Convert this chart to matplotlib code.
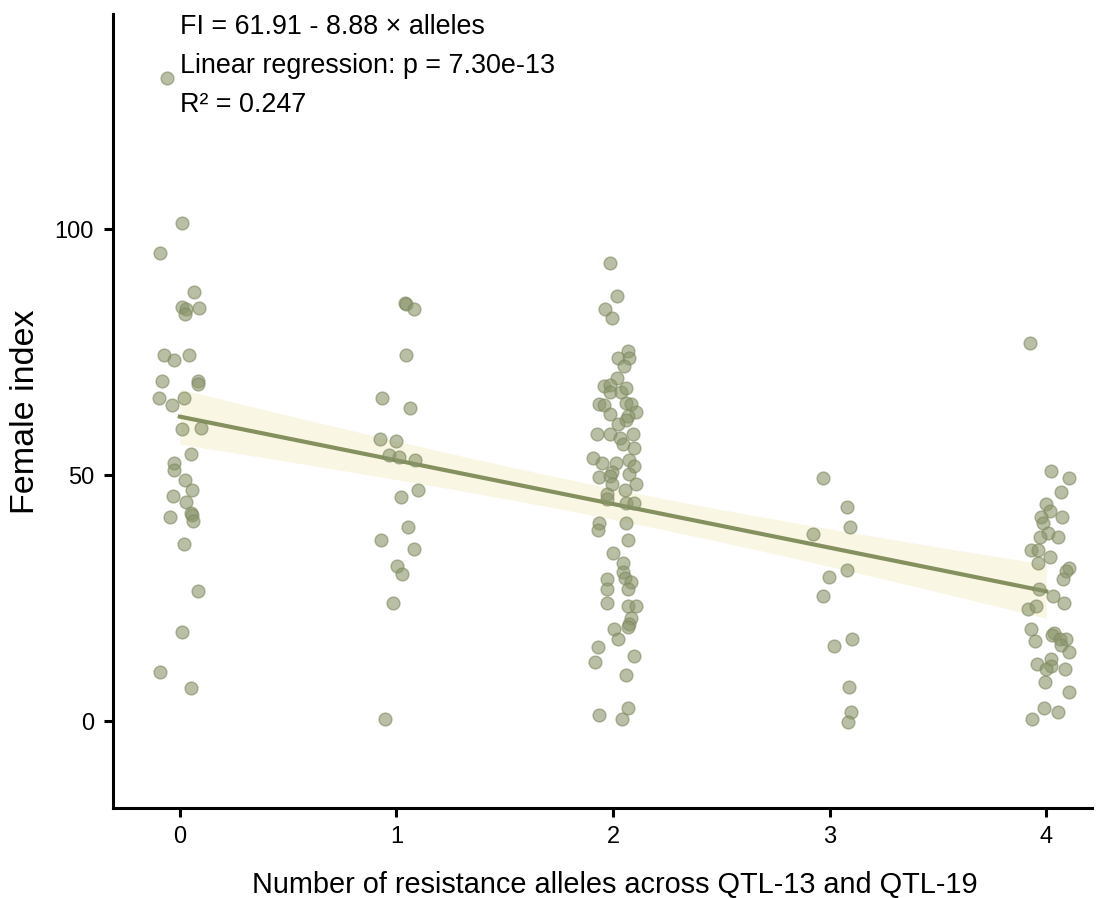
import numpy as np
import matplotlib
matplotlib.use("Agg")
import matplotlib.pyplot as plt

plt.rcParams['font.family'] = ['Liberation Sans', 'DejaVu Sans']

# jittered allele counts and female index values
alleles_0 = [-0.06, 0.012, -0.09, 0.063, 0.008, 0.028, 0.023, 0.089, -0.074, -0.029,
             0.04, -0.082, 0.083, 0.085, -0.095, -0.035, 0.018, 0.011, 0.097, 0.052,
             -0.028, -0.029, 0.026, 0.054, -0.031, 0.028, -0.046, 0.051, 0.055, 0.06,
             0.018, 0.082, 0.011, -0.09, 0.052]
fi_0 = [130.8, 101.2, 95.2, 87.2, 84.2, 83.7, 82.8, 83.9, 74.5, 73.5,
        74.5, 69.1, 69.1, 68.5, 65.8, 64.3, 65.8, 59.4, 59.7, 54.3,
        52.4, 51.1, 49.0, 46.9, 45.7, 44.6, 41.6, 42.4, 41.9, 40.6,
        36.0, 26.5, 18.2, 10.0, 6.7]

alleles_1 = [1.038, 1.046, 1.081, 1.044, 0.933, 1.061, 0.924, 1.0, 0.964, 1.012,
             1.087, 1.1, 1.023, 1.053, 0.927, 1.08, 1.004, 1.026, 0.986, 0.946]
fi_1 = [85.0, 84.8, 83.7, 74.4, 65.7, 63.6, 57.3, 56.9, 54.1, 53.7,
        53.0, 46.9, 45.5, 39.5, 36.8, 35.1, 31.5, 30.0, 24.0, 0.5]

alleles_2 = [1.988, 2.018, 1.965, 1.996, 2.07, 2.024, 2.073, 2.05, 2.018, 1.958,
             1.984, 1.987, 2.035, 2.058, 1.933, 1.958, 2.058, 2.082, 2.104, 1.988,
             2.067, 2.058, 2.025, 1.927, 1.984, 2.03, 2.09, 2.044, 2.098, 1.907,
             1.947, 2.012, 2.073, 2.095, 1.996, 1.936, 1.987, 2.075, 1.993, 2.105,
             2.055, 1.971, 1.973, 2.061, 2.095, 1.935, 1.932, 2.058, 2.071, 2.002,
             2.044, 2.045, 2.055, 2.081, 1.971, 1.97, 2.068, 1.973, 2.07, 2.105,
             2.081, 2.073, 2.067, 2.006, 2.021, 1.932, 2.098, 1.916, 2.059, 1.936,
             2.067, 2.039]
fi_2 = [93.2, 86.4, 83.7, 82.0, 75.2, 73.8, 73.8, 72.3, 69.8, 68.1,
        68.4, 66.9, 67.0, 67.8, 64.5, 64.2, 64.6, 64.4, 62.9, 62.5,
        62.0, 61.2, 60.4, 58.3, 58.3, 57.5, 58.3, 56.4, 55.6, 53.5,
        52.4, 52.5, 53.0, 51.9, 50.7, 49.6, 49.9, 50.2, 48.2, 48.2,
        46.9, 46.1, 45.1, 44.4, 44.4, 40.3, 38.9, 40.2, 36.8, 34.2,
        32.2, 30.3, 29.2, 28.2, 28.9, 26.8, 26.8, 24.1, 23.4, 23.4,
        20.9, 19.8, 19.2, 18.8, 16.7, 15.1, 13.3, 12.0, 9.3, 1.3,
        2.6, 0.5]

alleles_3 = [2.971, 3.08, 3.094, 2.924, 3.082, 2.997, 2.969, 3.105, 3.019, 3.091,
             3.099, 3.086]
fi_3 = [49.5, 43.5, 39.4, 38.1, 30.8, 29.4, 25.4, 16.7, 15.3, 6.9, 1.9, -0.1]

alleles_4 = [3.926, 4.021, 4.107, 4.07, 4.0, 4.018, 3.974, 4.075, 3.985, 4.008,
             3.971, 4.055, 3.93, 3.963, 4.018, 3.964, 4.105, 4.092, 4.077, 3.968,
             4.032, 4.08, 3.918, 3.954, 3.93, 3.948, 4.034, 4.026, 4.063, 4.092,
             4.07, 4.103, 3.957, 4.021, 4.024, 3.998, 4.087, 3.995, 4.106, 3.991,
             4.052, 3.935]
fi_4 = [76.8, 50.9, 49.5, 46.5, 44.2, 42.8, 41.5, 41.5, 40.3, 38.3,
        37.5, 37.5, 34.8, 34.8, 33.4, 32.1, 31.2, 30.5, 28.8, 26.9,
        25.4, 24.0, 22.8, 23.4, 18.7, 16.3, 17.9, 17.5, 16.8, 16.7,
        15.4, 14.0, 11.7, 12.7, 11.2, 10.7, 10.6, 7.9, 6.0, 2.6,
        1.9, 0.5]

intercept = 61.91
slope = -8.88
annot = ["FI = 61.91 - 8.88 × alleles",
         "Linear regression: p = 7.30e-13",
         "R² = 0.247"]

x_jit = np.array(alleles_0 + alleles_1 + alleles_2 + alleles_3 + alleles_4)
fi = np.array(fi_0 + fi_1 + fi_2 + fi_3 + fi_4)
x_true = np.round(x_jit)

# confidence band for the fit
n = len(fi)
resid = fi - (intercept + slope * x_true)
s = np.sqrt(np.sum(resid ** 2) / (n - 2))
xm = x_true.mean()
sxx = np.sum((x_true - xm) ** 2)
xs = np.linspace(0, 4, 100)
ys = intercept + slope * xs
se = s * np.sqrt(1.0 / n + (xs - xm) ** 2 / sxx)
lo = ys - 1.97 * se
hi = ys + 1.97 * se

fig = plt.figure(figsize=(11.05, 8.98), dpi=100)
ax = fig.add_axes([0.102, 0.100, 0.886, 0.884])

ax.fill_between(xs, lo, hi, color='#F7F0D2', alpha=0.6, lw=0, zorder=1)
ax.plot(xs, ys, color='#85905F', lw=3, zorder=2)
ax.scatter(x_jit, fi, s=85, color='#8A956A', alpha=0.6, edgecolors='#7D8860',
           linewidths=1, zorder=3)

for i, t in enumerate(annot):
    ax.text(0.0, 141.1 - i * 7.9, t, fontsize=19.4, va='center', ha='left', zorder=4)

ax.set_xlim(-0.31, 4.21)
ax.set_ylim(-17.7, 143.7)
ax.set_xticks([0, 1, 2, 3, 4])
ax.set_yticks([0, 50, 100])
ax.spines['top'].set_visible(False)
ax.spines['right'].set_visible(False)
ax.spines['left'].set_linewidth(2.2)
ax.spines['bottom'].set_linewidth(2.2)
ax.tick_params(length=6.5, width=2.2, labelsize=17, pad=6)
ax.tick_params(axis='y', pad=7)
ax.set_xlabel('Number of resistance alleles across QTL-13 and QTL-19', fontsize=20.8, labelpad=17)
ax.xaxis.label.set_x(0.513)
ax.set_ylabel('Female index', fontsize=24.5, labelpad=10)

fig.savefig('out.png', dpi=100)
